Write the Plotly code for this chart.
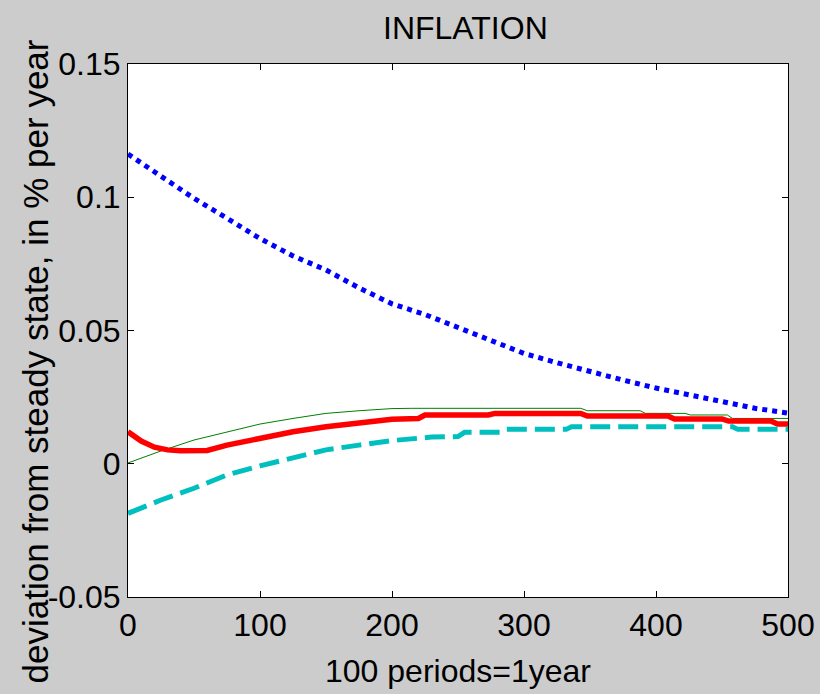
import plotly.graph_objects as go

# ---- data ----
blue_t = [0, 25, 50, 75, 100, 125, 150, 175, 200, 225, 250, 275, 300, 325, 350, 375, 400, 425, 450, 475, 500]
blue_v = [0.1162, 0.1077, 0.0996, 0.0921, 0.0845, 0.0780, 0.0727, 0.0660, 0.0600, 0.0560, 0.0510, 0.0462, 0.0414, 0.0379, 0.0345, 0.0314, 0.0284, 0.0258, 0.0233, 0.0208, 0.0190]

green_t = [0, 25, 50, 75, 100, 125, 150, 175, 200, 215, 343, 348, 388, 392, 422, 426, 454, 458, 500]
green_v = [0.0003, 0.0048, 0.0089, 0.0120, 0.0149, 0.0170, 0.0189, 0.0199, 0.0207, 0.0208, 0.0208, 0.0199, 0.0199, 0.0189, 0.0189, 0.0183, 0.0183, 0.0170, 0.0170]

red_t = [0, 10, 20, 30, 40, 60, 75, 100, 125, 150, 175, 200, 220, 225, 273, 278, 343, 348, 409, 414, 450, 455, 487, 492, 500]
red_v = [0.0120, 0.0085, 0.0062, 0.0052, 0.0049, 0.0050, 0.0070, 0.0095, 0.0120, 0.0139, 0.0152, 0.0167, 0.0170, 0.0183, 0.0183, 0.0189, 0.0189, 0.0179, 0.0179, 0.0168, 0.0168, 0.0160, 0.0160, 0.0149, 0.0149]

cyan_t = [0, 25, 50, 75, 100, 125, 150, 175, 200, 230, 250, 255, 282, 286, 332, 336, 458, 462, 500]
cyan_v = [-0.0186, -0.0136, -0.0092, -0.0042, -0.0008, 0.0024, 0.0052, 0.0070, 0.0087, 0.0100, 0.0102, 0.0118, 0.0118, 0.0129, 0.0129, 0.0139, 0.0139, 0.0129, 0.0129]

x_ticks = [0, 100, 200, 300, 400, 500]
y_ticks = [-0.05, 0, 0.05, 0.1, 0.15]
y_tick_text = ["-0.05", "0", "0.05", "0.1", "0.15"]

title_text = "INFLATION"
x_title = "100 periods=1year"
y_title = "deviation from steady state, in % per year"

FONT = "Liberation Sans, Arial, Helvetica, sans-serif"

fig = go.Figure()
fig.add_trace(go.Scatter(x=blue_t, y=blue_v, mode="lines",
                         line=dict(color="#0000ff", width=5, dash="5px,5px")))
fig.add_trace(go.Scatter(x=green_t, y=green_v, mode="lines",
                         line=dict(color="#008000", width=1)))
fig.add_trace(go.Scatter(x=red_t, y=red_v, mode="lines",
                         line=dict(color="#ff0000", width=5.5)))
fig.add_trace(go.Scatter(x=cyan_t, y=cyan_v, mode="lines",
                         line=dict(color="#00bfbf", width=5, dash="20px,8px")))

axis_common = dict(
    showgrid=False, zeroline=False, showline=True, linecolor="black", linewidth=1,
    mirror="ticks", ticks="inside", ticklen=6, tickcolor="black", tickwidth=1,
    tickfont=dict(family=FONT, size=32, color="black"),
)

fig.update_layout(
    width=820, height=694,
    paper_bgcolor="#cccccc", plot_bgcolor="white",
    margin=dict(l=128, r=32, t=64, b=97),
    showlegend=False,
    font=dict(family=FONT, color="black"),
    xaxis=dict(range=[0, 500], tickvals=x_ticks, automargin=False, **axis_common),
    yaxis=dict(range=[-0.05, 0.15], tickvals=y_ticks, ticktext=y_tick_text, automargin=False, **axis_common),
    annotations=[
        dict(text=title_text, xref="paper", yref="paper", x=0.5, y=1,
             xanchor="center", yanchor="bottom", yshift=16, xshift=7, showarrow=False,
             font=dict(family=FONT, size=32, color="black")),
        dict(text=x_title, xref="paper", yref="paper", x=0.5, y=0,
             xanchor="center", yanchor="top", yshift=-54, showarrow=False,
             font=dict(family=FONT, size=32, color="black")),
        dict(text=y_title, xref="paper", yref="paper", x=0, y=0.441,
             xanchor="left", yanchor="middle", xshift=-114, textangle=-90, showarrow=False,
             font=dict(family=FONT, size=35, color="black")),
    ],
)

fig.write_html("out.html", config={"displayModeBar": False},
               post_script="document.body.style.margin='0';document.body.style.overflow='hidden';")
